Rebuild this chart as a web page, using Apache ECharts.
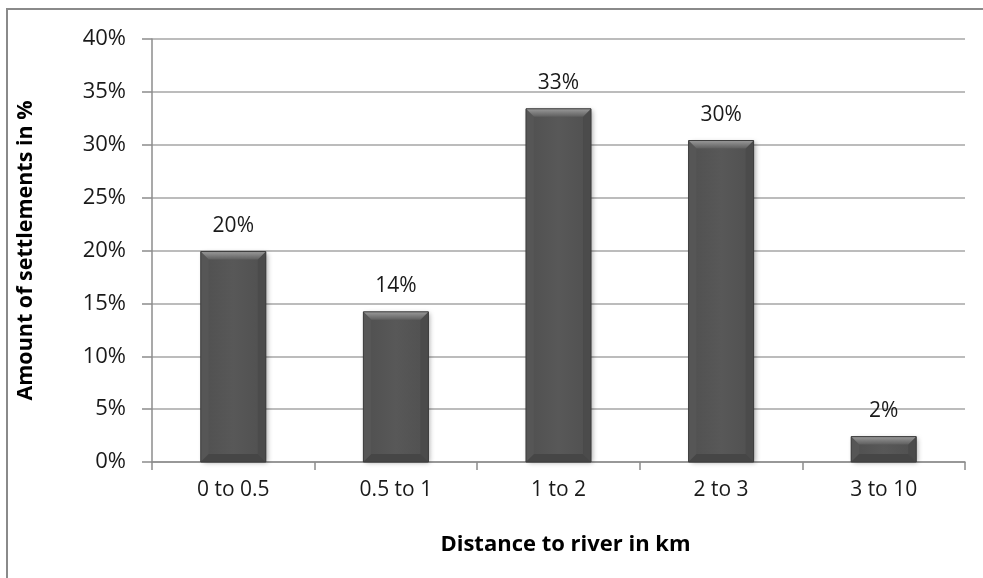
<!DOCTYPE html>
<html>
<head>
<meta charset="utf-8">
<script src="https://cdn.jsdelivr.net/npm/echarts@6/dist/echarts.min.js"></script>
<style>
  html, body { margin: 0; padding: 0; background: #fff; }
  #chart { width: 983px; height: 578px; }
</style>
</head>
<body>
<div id="chart"></div>
<script>
// Share of settlements by distance to the nearest river
const categories = ['0 to 0.5', '0.5 to 1', '1 to 2', '2 to 3', '3 to 10'];
const shares = [19.9, 14.2, 33.4, 30.4, 2.4];
const yTicks = [0, 5, 10, 15, 20, 25, 30, 35, 40];

const FONT = '"Open Sans", "Noto Sans", sans-serif';
const BAR_RATIO = 0.4;
const BEVEL = 8;

const chart = echarts.init(document.getElementById('chart'));

// Bevelled column: flat face, lighter top edge, softly shaded sides and bottom
function renderBevelBar(params, api) {
  const idx = api.value(0);
  const val = api.value(1);
  const top = api.coord([idx, val]);
  const base = api.coord([idx, 0]);
  const bw = api.size([1, 0])[0] * BAR_RATIO;
  const x0 = top[0] - bw / 2, x1 = top[0] + bw / 2;
  const y0 = top[1], y1 = base[1];
  const h = y1 - y0;
  const b = Math.min(BEVEL, h / 2, bw / 2);

  const face = new echarts.graphic.LinearGradient(0, 0, 1, 0, [
    { offset: 0, color: '#505050' },
    { offset: 0.5, color: '#585858' },
    { offset: 1, color: '#505050' }
  ]);
  const topEdge = new echarts.graphic.LinearGradient(0, 0, 0, 1, [
    { offset: 0, color: '#9a9a9a' },
    { offset: 1, color: '#5e5e5e' }
  ]);

  return {
    type: 'group',
    children: [
      {
        type: 'rect',
        shape: { x: x0, y: y0, width: bw, height: h },
        style: {
          fill: face,
          shadowColor: 'rgba(0,0,0,0.35)',
          shadowBlur: 5,
          shadowOffsetX: 2,
          shadowOffsetY: 1
        }
      },
      {
        type: 'polygon',
        shape: { points: [[x0, y0], [x0 + b, y0 + b], [x0 + b, y1 - b], [x0, y1]] },
        style: { fill: '#565656' }
      },
      {
        type: 'polygon',
        shape: { points: [[x1, y0], [x1, y1], [x1 - b, y1 - b], [x1 - b, y0 + b]] },
        style: { fill: '#4b4b4b' }
      },
      {
        type: 'polygon',
        shape: { points: [[x0, y1], [x0 + b, y1 - b], [x1 - b, y1 - b], [x1, y1]] },
        style: { fill: '#464646' }
      },
      {
        type: 'polygon',
        shape: { points: [[x0, y0], [x1, y0], [x1 - b, y0 + b], [x0 + b, y0 + b]] },
        style: { fill: topEdge }
      },
      {
        type: 'rect',
        shape: { x: x0, y: y0, width: bw, height: h },
        style: { fill: 'none', stroke: '#3c3c3c', lineWidth: 1 }
      },
      {
        type: 'text',
        style: {
          text: Math.round(val) + '%',
          x: top[0],
          y: y0 - 15,
          align: 'center',
          verticalAlign: 'bottom',
          fontFamily: FONT,
          fontSize: 21,
          fill: '#1a1a1a'
        }
      }
    ]
  };
}

chart.setOption({
  animation: false,
  backgroundColor: '#ffffff',
  graphic: [{
    type: 'rect',
    shape: { x: 7, y: 9, width: 1100, height: 700 },
    style: { fill: 'none', stroke: '#8a8a8a', lineWidth: 2 },
    silent: true
  }],
  grid: { left: 152, right: 18, top: 39, bottom: 116 },
  xAxis: {
    type: 'category',
    data: categories,
    name: 'Distance to river in km',
    nameLocation: 'middle',
    nameGap: 72,
    nameTextStyle: { fontFamily: FONT, fontSize: 22, fontWeight: 'bold', color: '#000', padding: [0, 0, 0, 14] },
    axisLine: { show: true, lineStyle: { color: '#8c8c8c', width: 1.5 } },
    axisTick: { show: true, alignWithLabel: false, length: 8, lineStyle: { color: '#8c8c8c', width: 1.5 } },
    axisLabel: { fontFamily: FONT, fontSize: 21, color: '#1a1a1a', margin: 18 },
    splitLine: { show: false }
  },
  yAxis: {
    type: 'value',
    min: yTicks[0],
    max: yTicks[yTicks.length - 1],
    interval: yTicks[1] - yTicks[0],
    name: 'Amount of settlements in %',
    nameLocation: 'middle',
    nameGap: 115,
    nameRotate: 90,
    nameTextStyle: { fontFamily: FONT, fontSize: 21.5, fontWeight: 'bold', color: '#000' },
    axisLine: { show: true, lineStyle: { color: '#8c8c8c', width: 1.5 } },
    axisTick: { show: true, inside: false, length: 10, lineStyle: { color: '#8c8c8c', width: 1.5 } },
    axisLabel: { fontFamily: FONT, fontSize: 22, color: '#1a1a1a', margin: 26, formatter: v => v + '%' },
    splitLine: { show: true, lineStyle: { color: '#a6a6a6', width: 1.5 } }
  },
  series: [{
    type: 'custom',
    renderItem: renderBevelBar,
    data: shares.map((v, i) => [i, v]),
    encode: { x: 0, y: 1 },
    clip: false
  }]
});
</script>
</body>
</html>
